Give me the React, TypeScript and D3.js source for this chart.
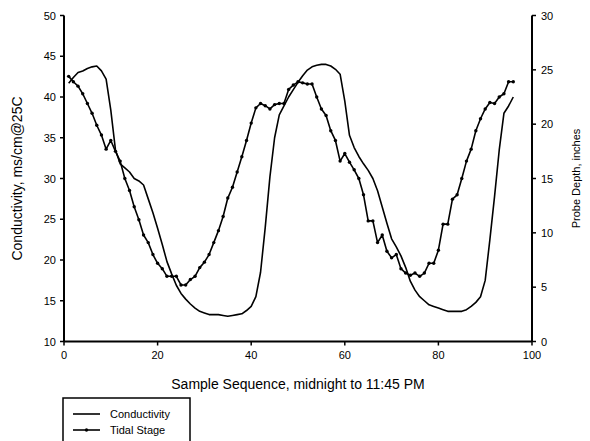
import React from "react";
import * as d3 from "d3";

const samples: number[] = Array.from({ length: 96 }, (_, i) => i + 1);

const conductivity: number[] = [
  41.7, 42.4, 43.0, 43.2, 43.5, 43.7, 43.8, 43.2, 42.2, 38.4,
  33.5, 31.8, 31.3, 30.8, 30.0, 29.7, 29.2, 27.5, 25.8, 23.9,
  21.9, 19.8, 18.3, 16.9, 15.9, 15.2, 14.6, 14.1, 13.7, 13.5,
  13.3, 13.3, 13.3, 13.2, 13.1, 13.2, 13.3, 13.4, 13.8, 14.3,
  15.5, 18.5, 24.0, 30.2, 35.0, 37.8, 38.9, 40.0, 40.9, 41.8,
  42.6, 43.3, 43.7, 43.9, 44.0, 44.0, 43.8, 43.4, 42.8, 39.5,
  35.3, 33.8, 32.7, 31.8, 31.0, 30.0, 28.5, 26.5, 24.5, 22.6,
  21.6, 20.5, 19.1, 17.4, 16.3, 15.5, 15.0, 14.5, 14.3, 14.1,
  13.9, 13.7, 13.7, 13.7, 13.7, 13.9, 14.3, 14.8, 15.5, 17.5,
  22.5, 27.8, 33.5, 38.0, 38.9, 40.0,
];

const tidalStage: number[] = [
  24.4, 23.9, 23.5, 22.8, 21.9, 21.0, 19.9, 19.0, 17.7, 18.5,
  17.5, 16.6, 15.0, 13.9, 12.4, 11.2, 9.8, 9.1, 8.0, 7.2,
  6.7, 6.0, 6.0, 6.0, 5.2, 5.2, 5.7, 6.0, 6.8, 7.3,
  8.0, 9.1, 10.2, 11.5, 13.2, 14.2, 15.6, 17.0, 18.5, 20.1,
  21.5, 21.9, 21.7, 21.4, 21.8, 21.9, 21.9, 23.2, 23.6, 23.9,
  23.8, 23.7, 23.7, 22.5, 21.4, 20.8, 19.4, 18.5, 16.6, 17.3,
  16.5, 15.8, 15.0, 13.5, 11.1, 11.1, 9.1, 9.8, 8.3, 7.7,
  8.0, 6.7, 6.3, 6.1, 6.3, 6.0, 6.3, 7.2, 7.2, 8.4,
  10.8, 10.8, 13.1, 13.5, 15.0, 16.6, 17.7, 19.4, 20.5, 21.4,
  22.0, 21.9, 22.5, 22.8, 23.9, 23.9,
];

const xTicks: number[] = [0, 20, 40, 60, 80, 100];
const leftTicks: number[] = [10, 15, 20, 25, 30, 35, 40, 45, 50];
const rightTicks: number[] = [0, 5, 10, 15, 20, 25, 30];

const xTitle = "Sample Sequence, midnight to 11:45 PM";
const leftTitle = "Conductivity, ms/cm@25C";
const rightTitle = "Probe Depth, inches";
const legendLabels: string[] = ["Conductivity", "Tidal Stage"];

const FONT = "'Liberation Sans', Arial, sans-serif";

export default function App() {
  const left = 64, right = 532, top = 15.5, bottom = 341.5;
  const x = d3.scaleLinear().domain([0, 100]).range([left, right]);
  const yL = d3.scaleLinear().domain([10, 50]).range([bottom, top]);
  const yR = d3.scaleLinear().domain([0, 30]).range([bottom, top]);

  const condLine = d3
    .line<number>()
    .x((_, i) => x(samples[i]))
    .y((d) => yL(d));
  const tideLine = d3
    .line<number>()
    .x((_, i) => x(samples[i]))
    .y((d) => yR(d));

  const tick = 4;
  return (
    <svg
      width={590}
      height={441}
      style={{ position: "absolute", left: 0, top: 0, background: "#fff" }}
      fontFamily={FONT}
    >
      <rect x={0} y={0} width={590} height={441} fill="#fff" />
      {/* series */}
      <path d={condLine(conductivity) || ""} fill="none" stroke="#000" strokeWidth={1.6} strokeLinejoin="round" />
      <path d={tideLine(tidalStage) || ""} fill="none" stroke="#000" strokeWidth={1.6} strokeLinejoin="round" />
      {tidalStage.map((d, i) => (
        <circle key={i} cx={x(samples[i])} cy={yR(d)} r={1.7} fill="#000" />
      ))}

      {/* axes */}
      <line x1={left} x2={right} y1={bottom} y2={bottom} stroke="#000" strokeWidth={2} />
      <line x1={left} x2={left} y1={top} y2={bottom} stroke="#000" strokeWidth={2} />
      <line x1={right} x2={right} y1={top} y2={bottom} stroke="#000" strokeWidth={2} />

      {xTicks.map((t) => (
        <g key={"x" + t}>
          <line x1={x(t)} x2={x(t)} y1={bottom} y2={bottom + tick} stroke="#000" strokeWidth={1.5} />
          <text x={x(t)} y={bottom + 17} textAnchor="middle" fontSize={11} fill="#000">
            {t}
          </text>
        </g>
      ))}
      {leftTicks.map((t) => (
        <g key={"l" + t}>
          <line x1={left - tick} x2={left} y1={yL(t)} y2={yL(t)} stroke="#000" strokeWidth={1.5} />
          <text x={left - 8} y={yL(t) + 4} textAnchor="end" fontSize={11} fill="#000">
            {t}
          </text>
        </g>
      ))}
      {rightTicks.map((t) => (
        <g key={"r" + t}>
          <line x1={right} x2={right + tick} y1={yR(t)} y2={yR(t)} stroke="#000" strokeWidth={1.5} />
          <text x={right + 9} y={yR(t) + 4} textAnchor="start" fontSize={11} fill="#000">
            {t}
          </text>
        </g>
      ))}

      {/* titles */}
      <text x={(left + right) / 2} y={389} textAnchor="middle" fontSize={14} fill="#000">
        {xTitle}
      </text>
      <text
        transform={`translate(22, ${(top + bottom) / 2}) rotate(-90)`}
        textAnchor="middle"
        fontSize={14}
        fill="#000"
      >
        {leftTitle}
      </text>
      <text
        transform={`translate(580, ${(top + bottom) / 2}) rotate(-90)`}
        textAnchor="middle"
        fontSize={11}
        fill="#000"
      >
        {rightTitle}
      </text>

      {/* legend */}
      <rect x={63} y={398} width={127} height={50} fill="#fff" stroke="#000" strokeWidth={1.5} />
      {legendLabels.map((lab, i) => (
        <g key={lab}>
          <line x1={73} x2={100} y1={414 + i * 16} y2={414 + i * 16} stroke="#000" strokeWidth={1.6} />
          {i === 1 && <circle cx={86.5} cy={414 + i * 16} r={1.7} fill="#000" />}
          <text x={110} y={418 + i * 16} fontSize={11} fill="#000">
            {lab}
          </text>
        </g>
      ))}
    </svg>
  );
}
